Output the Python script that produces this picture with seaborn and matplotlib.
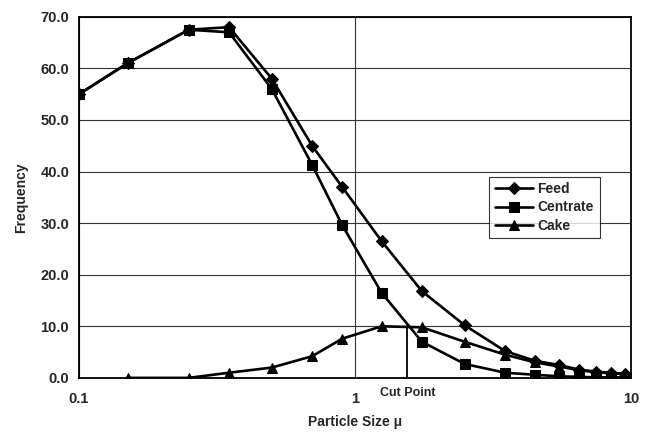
import numpy as np
import pandas as pd
import seaborn as sns
import matplotlib.pyplot as plt

# particle sizes (micron)
sizes = [0.1, 0.15, 0.25, 0.35, 0.5, 0.7, 0.9, 1.25, 1.75, 2.5, 3.5, 4.5, 5.5, 6.5, 7.5, 8.5, 9.5]
feed = [55.0, 61.0, 67.5, 68.0, 58.0, 45.0, 37.0, 26.5, 16.8, 10.2, 5.2, 3.3, 2.5, 1.6, 1.2, 1.0, 0.8]
centrate = [55.0, 61.0, 67.5, 67.0, 56.0, 41.3, 29.6, 16.5, 7.0, 2.7, 1.0, 0.6, 0.3, 0.2, 0.1, 0.1, 0.1]
cake_sizes = sizes[1:]
cake = [0.0, 0.0, 1.0, 2.0, 4.2, 7.6, 10.0, 9.8, 7.0, 4.5, 3.0, 2.2, 1.5, 1.1, 0.9, 0.7]
cut_point = 1.55
cut_freq = 10.0

sns.set_style("white")
plt.rcParams['font.family'] = ['Liberation Sans', 'DejaVu Sans']
plt.rcParams['font.weight'] = 'bold'

fig = plt.figure(figsize=(6.47, 4.43), dpi=100)
ax = fig.add_axes([0.122, 0.147, 0.853, 0.815])

sns.lineplot(x=sizes, y=feed, ax=ax, color='black', lw=1.9, marker='D',
             markersize=6, markeredgecolor='black', label='Feed')
sns.lineplot(x=sizes, y=centrate, ax=ax, color='black', lw=1.9, marker='s',
             markersize=7, markeredgecolor='black', label='Centrate')
sns.lineplot(x=cake_sizes, y=cake, ax=ax, color='black', lw=1.9, marker='^',
             markersize=7, markeredgecolor='black', label='Cake')

# cut point marker line
ax.plot([cut_point, cut_point], [0, cut_freq], color='black', lw=1.3)
ax.text(cut_point, -1.8, 'Cut Point', ha='center', va='top', fontsize=9, fontweight='bold')

ax.set_xscale('log')
ax.set_xlim(0.1, 10)
ax.set_ylim(0, 70)
ax.set_xticks([0.1, 1, 10])
ax.set_xticklabels(['0.1', '1', '10'])
ax.set_yticks(np.arange(0, 71, 10))
ax.set_yticklabels([f'{v:.1f}' for v in np.arange(0, 71, 10)])
ax.minorticks_off()
ax.tick_params(axis='y', direction='out', length=4, width=1, labelsize=10.5, pad=3)
ax.tick_params(axis='x', direction='out', length=0, labelsize=10.5, pad=10)

ax.grid(True, which='major', color='#333333', lw=0.8)
for s in ax.spines.values():
    s.set_color('black')
    s.set_linewidth(1.3)

ax.set_xlabel('Particle Size \u03bc', fontsize=10, fontweight='bold', labelpad=7)
ax.set_ylabel('Frequency', fontsize=10, fontweight='bold', labelpad=9)

leg = ax.legend(loc='upper left', bbox_to_anchor=(0.743, 0.557), frameon=True,
                fancybox=False, edgecolor='black', fontsize=10, handlelength=2.8,
                borderpad=0.4, labelspacing=0.3, handletextpad=0.3,
                borderaxespad=0)
leg.get_frame().set_linewidth(0.8)

fig.savefig('out.png', dpi=100)
